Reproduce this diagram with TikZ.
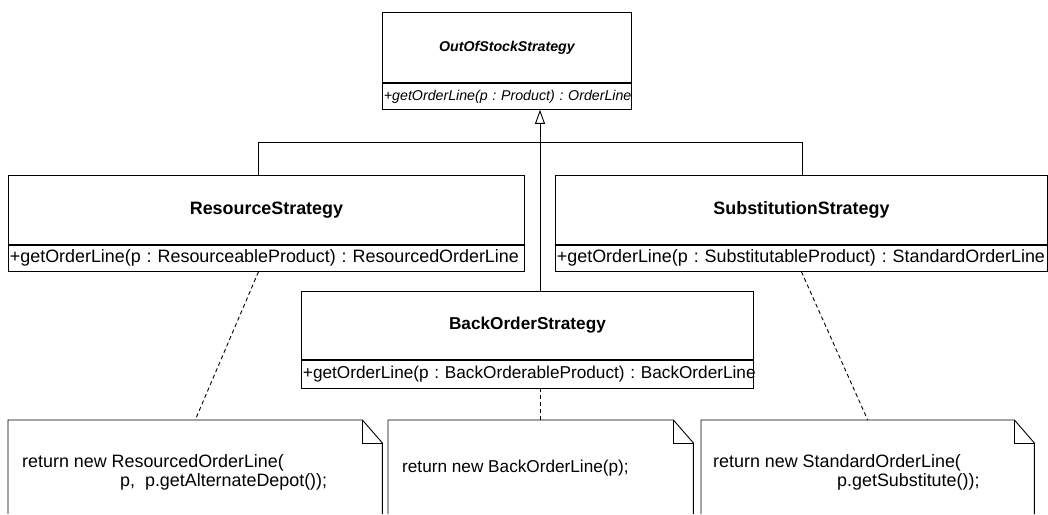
\documentclass[tikz,border=0pt]{standalone}
\usepackage{fontspec}
\setmainfont{Liberation Sans}
\frenchspacing
\usetikzlibrary{arrows.meta}
\newcommand{\umlfont}{\fontsize{17.9}{20}\selectfont}
\newcommand{\midfont}{\fontsize{17.2}{20}\selectfont}
\newcommand{\topfont}{\fontsize{14.2}{17}\selectfont}
\tikzset{
  ln/.style={line width=0.9pt, draw=black},
  namebox/.style={ln, draw, inner sep=0pt, anchor=north west, font=\umlfont\bfseries},
  opsbox/.style={ln, draw, inner ysep=0pt, inner xsep=1.5pt, anchor=north west, align=left, minimum height=26pt, font=\umlfont},
  noteframe/.style={inner sep=0pt, anchor=north west, minimum height=100pt},
  notetext/.style={inner sep=0pt, anchor=west, font=\umlfont},
  gen/.style={ln},
  genarrow/.style={ln, -{Triangle[open, width=10pt, length=14pt]}},
  anchorline/.style={ln, dash pattern=on 4pt off 3pt},
}
\begin{document}
\begin{tikzpicture}[x=1pt, y=-1pt]
\useasboundingbox (0,0) rectangle (1048,514);

% abstract strategy
\node[namebox, minimum width=249pt, minimum height=70pt, font=\topfont\bfseries\itshape] (ooN) at (382,12) {OutOfStockStrategy};
\node[opsbox, text width=246pt, font=\topfont\itshape] (ooO) at (ooN.south west) {\mbox{+getOrderLine(p : Product) : OrderLine}};

% ResourceStrategy
\node[namebox, minimum width=516pt, minimum height=69pt] (rsN) at (8,175) {ResourceStrategy};
\node[opsbox, text width=513pt] (rsO) at (rsN.south west) {\mbox{+getOrderLine(p : ResourceableProduct) : ResourcedOrderLine}};

% SubstitutionStrategy
\node[namebox, minimum width=492pt, minimum height=69pt] (ssN) at (555,175) {SubstitutionStrategy};
\node[opsbox, text width=489pt] (ssO) at (ssN.south west) {\mbox{+getOrderLine(p : SubstitutableProduct) : StandardOrderLine}};

% BackOrderStrategy
\node[namebox, minimum width=452pt, minimum height=68pt, font=\midfont\bfseries] (boN) at (301,291) {BackOrderStrategy};
\node[opsbox, text width=449pt, minimum height=28pt, font=\midfont] (boO) at (boN.south west) {\mbox{+getOrderLine(p : BackOrderableProduct) : BackOrderLine}};

% generalization
\coordinate (jl) at (258,142);
\coordinate (jc) at (540,142);
\coordinate (jr) at (802,142);
\draw[gen] (rsN.north -| jl) -- (jl) -- (jr) -- (ssN.north -| jr);
\draw[genarrow] (boN.north -| jc) -- (ooO.south -| jc);

% notes
\node[noteframe, minimum width=374pt] (n1) at (8,420) {};
\node[noteframe, minimum width=305pt] (n2) at (388,420) {};
\node[noteframe, minimum width=333pt] (n3) at (701,420) {};
\foreach \n in {n1,n2,n3}{
  \draw[ln] (\n.west |- 0,514) -- (\n.north west) -- ([xshift=-20pt]\n.north east) -- ([yshift=-23pt]\n.north east) -- (\n.east |- 0,514);
  \draw[ln] ([xshift=-20pt]\n.north east) -- ([xshift=-20pt,yshift=-23pt]\n.north east) -- ([yshift=-23pt]\n.north east);
}
\node[notetext] (t1a) at (22,463) {return new ResourcedOrderLine(};
\node[notetext] (t1b) at (120,482) {p,\ \ p.getAlternateDepot());};
\node[notetext, font=\midfont] (t2a) at (402,468) {return new BackOrderLine(p);};
\node[notetext] (t3a) at (713,463) {return new StandardOrderLine(};
\node[notetext] (t3b) at (837,482) {p.getSubstitute());};

% note anchors
\draw[anchorline] ([xshift=-8pt]rsO.south) -- (n1.north);
\draw[anchorline] (n2.north -| jc) -- (boO.south -| jc);
\draw[anchorline] (ssO.south) -- (n3.north);
\end{tikzpicture}
\end{document}
